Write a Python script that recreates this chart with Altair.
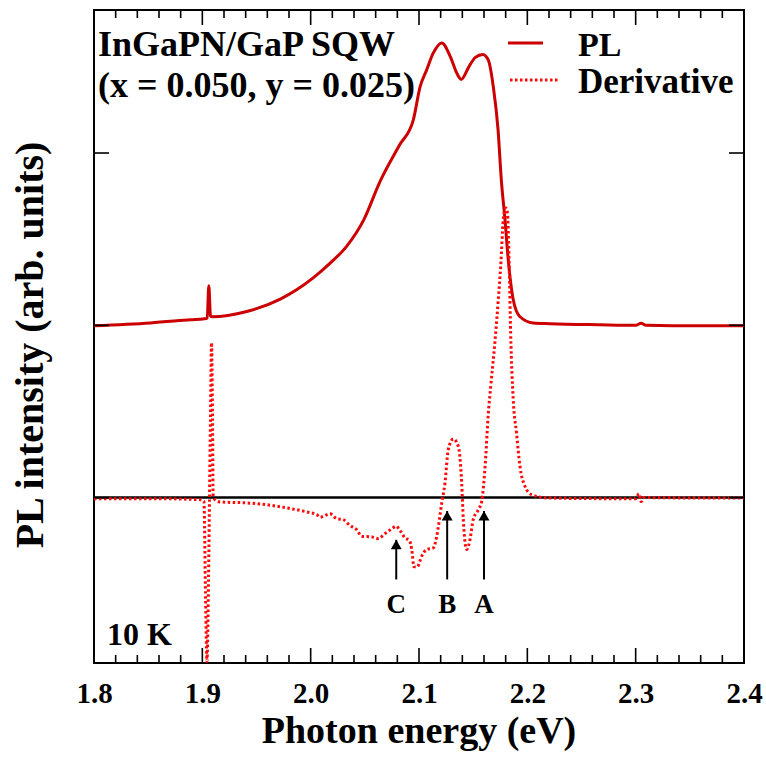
import altair as alt
import pandas as pd

# ---------------- data (photon energy in eV, intensity in arb. units) ----------------
pl_energy = [1.800, 1.852, 1.889, 1.902, 1.9045, 1.906, 1.9075, 1.909, 1.941, 1.972,
             1.987, 2.002, 2.018, 2.033, 2.049, 2.064, 2.082, 2.0947, 2.101, 2.107,
             2.113, 2.121, 2.129, 2.135, 2.139, 2.146, 2.152, 2.159, 2.164, 2.1686,
             2.173, 2.176, 2.1794, 2.1824, 2.187, 2.193, 2.2055, 2.221, 2.267, 2.300,
             2.305, 2.3095, 2.359, 2.400]
pl_intensity = [0.997, 1.014, 1.032, 1.038, 1.043, 1.229, 1.055, 1.049, 1.080, 1.152,
                1.206, 1.274, 1.361, 1.457, 1.612, 1.834, 2.046, 2.191, 2.384, 2.481,
                2.578, 2.639, 2.558, 2.462, 2.427, 2.500, 2.555, 2.572, 2.539, 2.384,
                2.133, 1.843, 1.612, 1.380, 1.148, 1.051, 1.013, 1.009, 1.003, 1.000,
                1.012, 1.000, 0.997, 0.997]

der_energy = [1.800, 1.852, 1.898, 1.9015, 1.903, 1.9043, 1.9057, 1.9066, 1.9075, 1.9085,
              1.9094, 1.910, 1.9126, 1.916, 1.941, 1.959, 1.978, 1.9963, 2.0056, 2.0086,
              2.0179, 2.024, 2.030, 2.0363, 2.0425, 2.047, 2.0563, 2.0624, 2.0686, 2.0748,
              2.0788, 2.0825, 2.0871, 2.0911, 2.0933, 2.0954, 2.0984, 2.1025, 2.1071, 2.1132,
              2.1164, 2.121, 2.124, 2.127, 2.1317, 2.1363, 2.1394, 2.1409, 2.144, 2.1471,
              2.150, 2.1548, 2.1579, 2.161, 2.164, 2.1662, 2.170, 2.1732, 2.1754, 2.1778,
              2.180, 2.1815, 2.1833, 2.1846, 2.187, 2.190, 2.1932, 2.1978, 2.204, 2.2179,
              2.267, 2.300, 2.303, 2.305, 2.3075, 2.359, 2.400]
der_value = [-0.006, -0.006, -0.012, -0.023, -0.591, -0.951, -0.475, -0.012, 0.452, 0.899,
             0.452, 0.006, -0.017, -0.025, -0.031, -0.041, -0.060, -0.083, -0.099, -0.114,
             -0.094, -0.122, -0.128, -0.162, -0.186, -0.224, -0.228, -0.238, -0.209, -0.181,
             -0.166, -0.191, -0.234, -0.248, -0.301, -0.402, -0.402, -0.340, -0.301, -0.292,
             -0.224, -0.031, 0.085, 0.278, 0.340, 0.297, 0.085, -0.128, -0.301, -0.243,
             -0.128, -0.070, -0.021, 0.181, 0.491, 0.645, 0.897, 1.148, 1.341, 1.612,
             1.681, 1.658, 1.341, 0.955, 0.568, 0.375, 0.181, 0.066, 0.017, -0.002,
             -0.006, -0.006, 0.023, -0.023, 0.000, -0.003, -0.003]

major_ticks = [1.8, 1.9, 2.0, 2.1, 2.2, 2.3, 2.4]
minor_ticks = [1.82, 1.84, 1.86, 1.88, 1.92, 1.94, 1.96, 1.98, 2.02, 2.04, 2.06, 2.08,
               2.12, 2.14, 2.16, 2.18, 2.22, 2.24, 2.26, 2.28, 2.32, 2.34, 2.36, 2.38]
y_ticks = [0.0, 1.0, 2.0]

arrow_labels = ["C", "B", "A"]
arrow_energy = [2.079, 2.126, 2.160]
arrow_tip = [-0.245, -0.078, -0.078]
arrow_tail = [-0.475, -0.475, -0.475]

# ---------------- styling ----------------
W, H = 650, 653
FONT = "Liberation Serif"
PL_COLOR = "#cc0000"
DER_COLOR = "#ff0a0a"
DOTS = [2.5, 2.5]

xs = alt.Scale(domain=[1.8, 2.4], nice=False, zero=False)
ys = alt.Scale(domain=[-0.96, 2.83], nice=False, zero=False)
x_axis = alt.Axis(values=major_ticks, format=".1f", grid=False, domain=False,
                  ticks=False, tickSize=0, labelPadding=16, labelFont=FONT,
                  labelFontSize=29, labelFontWeight="bold", labelColor="black",
                  labelFlush=False, labelOverlap=False, title=None)

pl_df = pd.DataFrame({"E": pl_energy, "I": pl_intensity})
der_df = pd.DataFrame({"E": der_energy, "D": der_value})
maj_df = pd.DataFrame({"E": major_ticks})
min_df = pd.DataFrame({"E": minor_ticks})
yt_df = pd.DataFrame({"Y": y_ticks})
arr_df = pd.DataFrame({"E": arrow_energy, "tip": arrow_tip, "tail": arrow_tail,
                       "lab": arrow_labels})
one = pd.DataFrame({"k": [0]})

X = lambda f: alt.X(f, type="quantitative", scale=xs, axis=x_axis)
Y = lambda f: alt.Y(f, type="quantitative", scale=ys, axis=None)

zero_line = alt.Chart(pd.DataFrame({"Y": [0.0]})).mark_rule(
    color="black", strokeWidth=2.5).encode(
    y=Y("Y"), x=alt.value(0), x2=alt.value(W))

pl_line = alt.Chart(pl_df).mark_line(
    color=PL_COLOR, strokeWidth=3, interpolate="monotone").encode(
    x=X("E"), y=Y("I"), order="E:Q")

der_line = alt.Chart(der_df).mark_line(
    color=DER_COLOR, strokeWidth=3, strokeDash=DOTS, interpolate="monotone").encode(
    x=X("E"), y=Y("D"), order="E:Q")

tick_style = dict(color="black", strokeWidth=1.6)
bot_major = alt.Chart(maj_df).mark_rule(**tick_style).encode(
    x=X("E"), y=alt.value(H), y2=alt.value(H - 15))
bot_minor = alt.Chart(min_df).mark_rule(**tick_style).encode(
    x=X("E"), y=alt.value(H), y2=alt.value(H - 8))
top_major = alt.Chart(maj_df).mark_rule(**tick_style).encode(
    x=X("E"), y=alt.value(0), y2=alt.value(15))
top_minor = alt.Chart(min_df).mark_rule(**tick_style).encode(
    x=X("E"), y=alt.value(0), y2=alt.value(8))
left_ticks = alt.Chart(yt_df).mark_rule(**tick_style).encode(
    y=Y("Y"), x=alt.value(0), x2=alt.value(15))
right_ticks = alt.Chart(yt_df).mark_rule(**tick_style).encode(
    y=Y("Y"), x=alt.value(W - 15), x2=alt.value(W))

arrow_shaft = alt.Chart(arr_df).mark_rule(color="black", strokeWidth=2).encode(
    x=X("E"), y=Y("tail"), y2="tip")
arrow_head = alt.Chart(arr_df).mark_point(
    shape="triangle-up", filled=True, size=120, color="black", opacity=1,
    yOffset=4.7).encode(x=X("E"), y=Y("tip"))
arrow_text = alt.Chart(arr_df).mark_text(
    font=FONT, fontSize=27, fontWeight="bold", color="black",
    align="center", baseline="alphabetic").encode(
    x=X("E"), y=alt.value(603), text="lab:N")

def label(txt, x, y, size, align="left", angle=None, baseline="alphabetic"):
    kw = dict(font=FONT, fontSize=size, fontWeight="bold", color="black",
              align=align, baseline=baseline, text=txt)
    if angle is not None:
        kw["angle"] = angle
    return alt.Chart(one).mark_text(**kw).encode(x=alt.value(x), y=alt.value(y))

t1 = label("InGaPN/GaP SQW", 4, 46, 36)
t2 = label("(x = 0.050, y = 0.025)", 4, 87, 36)
t10k = label("10 K", 13, 635, 32)
leg_pl_txt = label("PL", 484, 46, 34)
leg_der_txt = label("Derivative", 484, 83, 35)
x_title = label("Photon energy (eV)", 325, 733, 38, align="center")
y_title = label("PL intensity (arb. units)", -63, 335, 40, align="center",
                angle=270, baseline="middle")

leg_pl_line = alt.Chart(one).mark_rule(color=PL_COLOR, strokeWidth=3).encode(
    x=alt.value(414), x2=alt.value(449), y=alt.value(33))
leg_der_line = alt.Chart(one).mark_rule(
    color=DER_COLOR, strokeWidth=3, strokeDash=DOTS).encode(
    x=alt.value(416), x2=alt.value(466), y=alt.value(70))

chart = alt.layer(
    zero_line, pl_line, der_line,
    bot_major, bot_minor, top_major, top_minor, left_ticks, right_ticks,
    arrow_shaft, arrow_head, arrow_text,
    t1, t2, t10k, leg_pl_line, leg_der_line, leg_pl_txt, leg_der_txt,
    x_title, y_title,
).properties(
    width=W, height=H,
    autosize=alt.AutoSizeParams(type="none"),
    padding={"left": 94, "top": 10, "right": 22, "bottom": 103},
    background="white",
).configure_view(
    stroke="black", strokeWidth=2,
)

chart.save("out.html", embed_options={"renderer": "svg", "actions": False})
